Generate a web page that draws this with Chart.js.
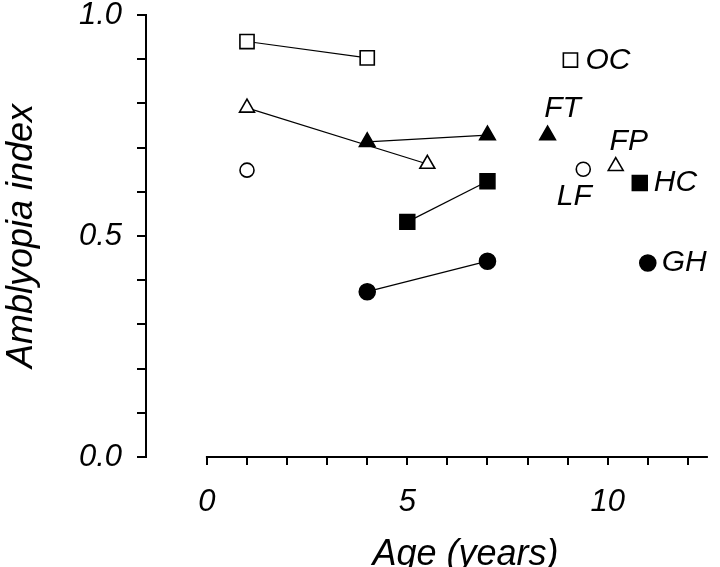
<!DOCTYPE html>
<html>
<head>
<meta charset="utf-8">
<script src="https://cdn.jsdelivr.net/npm/chart.js@4"></script>
<style>
  body { margin: 0; background: #fff; }
</style>
</head>
<body>
<canvas id="grafico" width="720" height="567"></canvas>
<script>
// subjects, first visits (joined by a line) and last visit (labelled)
const subjects = ["OC", "FT", "FP", "HC", "LF", "GH"];
const earlyAge = [[1, 4], [4, 7], [1, 5.5], [5, 7], [1], [4, 7]];
const earlyIndex = [[0.94, 0.903], [0.713, 0.728], [0.79, 0.663], [0.532, 0.624], [0.649], [0.374, 0.443]];
const lateAge = [9.07, 8.5, 10.2, 10.8, 9.39, 11.0];
const lateIndex = [0.898, 0.728, 0.658, 0.62, 0.651, 0.439];
const xTickValues = [0, 1, 2, 3, 4, 5, 6, 7, 8, 9, 10, 11, 12];

// marker look per subject
const markerStyle = ["rect", "triangle", "triangle", "rect", "circle", "circle"];
const markerFilled = [false, true, false, true, false, true];
const markerRadius = [10, 9, 8.6, 10.5, 7, 8];

// where each name sits next to its last point: dx, dy, align
const labelPlace = [
  [15, 1, "left"],
  [15, -27, "center"],
  [13, -25, "center"],
  [14, 0, "left"],
  [-9, 27, "center"],
  [14, 0, "left"]
];

const FONT = '"Liberation Sans", Arial, Helvetica, sans-serif';

var datasets = [];
for (var i = 0; i < subjects.length; i++) {
  var fill = markerFilled[i] ? "#000" : "#fff";
  datasets.push({
    label: subjects[i],
    data: earlyAge[i].map(function (a, k) { return { x: a, y: earlyIndex[i][k] }; }),
    showLine: true,
    borderColor: "#000",
    borderWidth: 1.2,
    pointStyle: markerStyle[i],
    pointRadius: markerRadius[i],
    pointBackgroundColor: fill,
    pointBorderColor: "#000",
    pointBorderWidth: 1.6
  });
  datasets.push({
    label: subjects[i] + " last",
    data: [{ x: lateAge[i], y: lateIndex[i] }],
    showLine: false,
    pointStyle: markerStyle[i],
    pointRadius: markerRadius[i],
    pointBackgroundColor: fill,
    pointBorderColor: "#000",
    pointBorderWidth: 1.6
  });
}

var extras = {
  id: "extras",
  afterDraw: function (chart) {
    var ctx = chart.ctx;
    var xs = chart.scales.x, ys = chart.scales.y;
    var area = chart.chartArea;
    ctx.save();
    // x axis line starts at age 0
    ctx.strokeStyle = "#000";
    ctx.lineWidth = 2;
    ctx.beginPath();
    ctx.moveTo(xs.getPixelForValue(0) - 1, area.bottom);
    ctx.lineTo(area.right, area.bottom);
    ctx.stroke();

    // subject names
    ctx.fillStyle = "#000";
    ctx.font = "italic 30px " + FONT;
    ctx.textBaseline = "middle";
    for (var i = 0; i < subjects.length; i++) {
      var px = xs.getPixelForValue(lateAge[i]);
      var py = ys.getPixelForValue(lateIndex[i]);
      ctx.textAlign = labelPlace[i][2];
      ctx.fillText(subjects[i], px + labelPlace[i][0], py + labelPlace[i][1]);
    }

    // x axis title
    ctx.font = "italic 36px " + FONT;
    ctx.textAlign = "center";
    ctx.textBaseline = "alphabetic";
    ctx.fillText("Age (years)", (xs.getPixelForValue(0) + area.right) / 2 + 8, chart.height - 2);
    ctx.restore();
  }
};

var ctx = document.getElementById("grafico").getContext("2d");
var myChart = new Chart(ctx, {
  type: "scatter",
  data: { datasets: datasets },
  plugins: [extras],
  options: {
    responsive: false,
    animation: false,
    layout: { padding: { top: 15, right: 3, left: 0, bottom: 0 } },
    plugins: { legend: { display: false }, tooltip: { enabled: false } },
    scales: {
      x: {
        type: "linear",
        min: -1.52,
        max: 12.5,
        afterBuildTicks: function (scale) {
          scale.ticks = xTickValues.map(function (v) { return { value: v }; });
        },
        afterFit: function (scale) {
          scale.height = 110;
          scale.paddingLeft = 0;
          scale.paddingRight = 0;
        },
        border: { display: false },
        grid: { drawOnChartArea: false, drawTicks: true, tickLength: 8, color: "#000", lineWidth: 2 },
        ticks: {
          autoSkip: false,
          maxRotation: 0,
          padding: 19,
          color: "#000",
          font: { family: FONT, size: 31, style: "italic" },
          callback: function (v) { return v % 5 === 0 ? String(v) : ""; }
        }
      },
      y: {
        min: 0,
        max: 1,
        afterFit: function (scale) {
          scale.width = 146;
          scale.paddingTop = 0;
          scale.paddingBottom = 0;
        },
        border: { display: true, color: "#000", width: 2 },
        grid: { drawOnChartArea: false, drawTicks: true, tickLength: 9, color: "#000", lineWidth: 2 },
        ticks: {
          stepSize: 0.1,
          padding: 15,
          color: "#000",
          font: { family: FONT, size: 31, style: "italic" },
          callback: function (v) {
            var t = Math.round(v * 10);
            return t % 5 === 0 ? (t / 10).toFixed(1) : "";
          }
        },
        title: {
          display: true,
          text: "Amblyopia index",
          color: "#000",
          padding: { top: 0, bottom: 0 },
          font: { family: FONT, size: 36, style: "italic" }
        }
      }
    }
  }
});
</script>
</body>
</html>
